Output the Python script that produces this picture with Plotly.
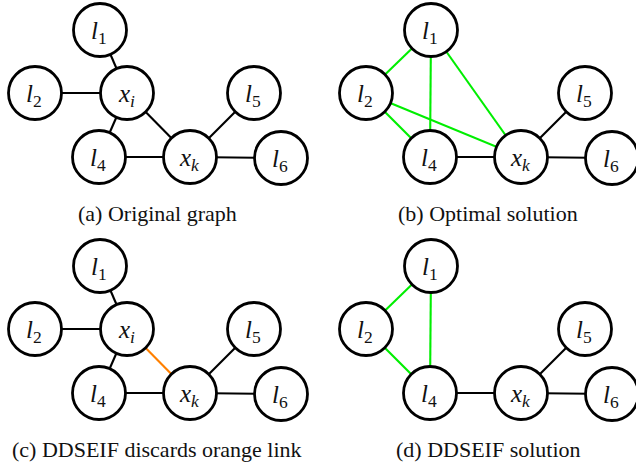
import plotly.graph_objects as go

# Graph nodes: name -> (label, x, y) in the panel frame (pixels, y downwards)
node_names = ["l1", "l2", "xi", "l4", "xk", "l5", "l6"]
node_labels = ["<i>l</i><sub>1</sub>", "<i>l</i><sub>2</sub>", "<i>x</i><sub><i>i</i></sub>",
               "<i>l</i><sub>4</sub>", "<i>x</i><sub><i>k</i></sub>", "<i>l</i><sub>5</sub>",
               "<i>l</i><sub>6</sub>"]
node_x = [100, 35, 127, 99, 190, 254, 281]
node_y = [30, 93, 93, 157, 157, 93, 158]

# Edges for each panel, grouped by colour
edges_a_black = [("l1", "xi"), ("l2", "xi"), ("xi", "l4"), ("xi", "xk"),
                 ("l4", "xk"), ("xk", "l5"), ("xk", "l6")]
edges_b_black = [("l4", "xk"), ("xk", "l5"), ("xk", "l6")]
edges_b_green = [("l1", "l2"), ("l1", "l4"), ("l1", "xk"), ("l2", "l4"), ("l2", "xk")]
edges_c_black = [("l1", "xi"), ("l2", "xi"), ("xi", "l4"),
                 ("l4", "xk"), ("xk", "l5"), ("xk", "l6")]
edges_c_orange = [("xi", "xk")]
edges_d_black = [("l4", "xk"), ("xk", "l5"), ("xk", "l6")]
edges_d_green = [("l1", "l2"), ("l1", "l4"), ("l2", "l4")]

captions = ["(a) Original graph", "(b) Optimal solution",
            "(c) DDSEIF discards orange link", "(d) DDSEIF solution"]

W, H = 636, 463
BLACK, GREEN, ORANGE = "#000000", "#00ee00", "#ff8000"
SERIF = "Liberation Serif"

panels = [
    dict(dx=0, dy=0, nodes=node_names,
         edges=[(edges_a_black, BLACK)], caption=captions[0]),
    dict(dx=331, dy=0, nodes=[n for n in node_names if n != "xi"],
         edges=[(edges_b_black, BLACK), (edges_b_green, GREEN)], caption=captions[1]),
    dict(dx=0, dy=236, nodes=node_names,
         edges=[(edges_c_black, BLACK), (edges_c_orange, ORANGE)], caption=captions[2]),
    dict(dx=331, dy=236, nodes=[n for n in node_names if n != "xi"],
         edges=[(edges_d_black, BLACK), (edges_d_green, GREEN)], caption=captions[3]),
]

pos = {n: (x, y) for n, x, y in zip(node_names, node_x, node_y)}
lab = dict(zip(node_names, node_labels))

fig = go.Figure()
annotations = []
for p in panels:
    dx, dy = p["dx"], p["dy"]
    for edge_list, color in p["edges"]:
        xs, ys = [], []
        for a, b in edge_list:
            xs += [pos[a][0] + dx, pos[b][0] + dx, None]
            ys += [pos[a][1] + dy, pos[b][1] + dy, None]
        fig.add_trace(go.Scatter(x=xs, y=ys, mode="lines",
                                 line=dict(color=color, width=2.1),
                                 hoverinfo="skip", showlegend=False))
    fig.add_trace(go.Scatter(
        x=[pos[n][0] + dx for n in p["nodes"]],
        y=[pos[n][1] + dy for n in p["nodes"]],
        mode="markers",
        marker=dict(size=53, color="white", line=dict(color="black", width=2.8)),
        hoverinfo="skip", showlegend=False, cliponaxis=False))
    # node labels as annotations so the serif face is applied
    for n in p["nodes"]:
        annotations.append(dict(x=pos[n][0] + dx - 1, y=pos[n][1] + dy + 2,
                                xref="x", yref="y", text=lab[n], showarrow=False,
                                font=dict(family=SERIF, size=25, color="#111111"),
                                xanchor="center", yanchor="middle"))
    annotations.append(dict(x=157 + dx, y=213 + dy, xref="x", yref="y",
                            text=p["caption"], showarrow=False,
                            font=dict(family=SERIF, size=22, color="#111111"),
                            xanchor="center", yanchor="middle"))

fig.update_layout(
    width=W, height=H, margin=dict(l=0, r=0, t=0, b=0),
    paper_bgcolor="white", plot_bgcolor="white",
    font=dict(family=SERIF),
    xaxis=dict(range=[0, W], visible=False, fixedrange=True),
    yaxis=dict(range=[H, 0], visible=False, fixedrange=True),
    annotations=annotations,
)

fig.write_html("out.html")
